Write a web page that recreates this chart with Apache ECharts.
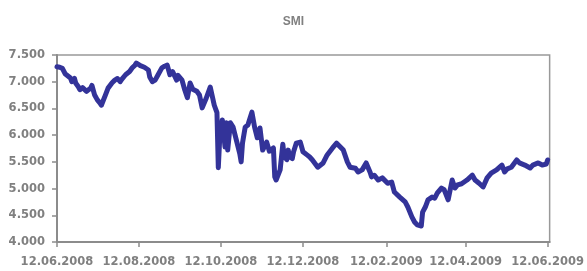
<!DOCTYPE html>
<html>
<head>
<meta charset="utf-8">
<script src="https://cdn.jsdelivr.net/npm/echarts@6/dist/echarts.min.js"></script>
<style>
html,body{margin:0;padding:0;background:#fff;}
#chart{width:587px;height:271px;}
</style>
</head>
<body>
<div id="chart"></div>
<script>
var title = 'SMI';
var dates = [
'2008-06-12','2008-06-14','2008-06-16','2008-06-18','2008-06-19','2008-06-22','2008-06-23','2008-06-25','2008-06-26','2008-06-28',
'2008-06-29','2008-07-01','2008-07-04','2008-07-05','2008-07-07','2008-07-08','2008-07-10','2008-07-12','2008-07-14','2008-07-15',
'2008-07-18','2008-07-20','2008-07-23','2008-07-25','2008-07-27','2008-07-29','2008-07-30','2008-08-02','2008-08-03','2008-08-05',
'2008-08-07','2008-08-09','2008-08-10','2008-08-13','2008-08-14','2008-08-16','2008-08-19','2008-08-20','2008-08-22','2008-08-24',
'2008-08-26','2008-08-29','2008-08-31','2008-09-02','2008-09-04','2008-09-06','2008-09-09','2008-09-10','2008-09-13','2008-09-15',
'2008-09-17','2008-09-19','2008-09-21','2008-09-24','2008-09-26','2008-09-28','2008-10-01','2008-10-04','2008-10-05','2008-10-07',
'2008-10-09','2008-10-10','2008-10-11','2008-10-13','2008-10-15','2008-10-16','2008-10-17','2008-10-19','2008-10-21','2008-10-24',
'2008-10-26','2008-10-27','2008-10-28','2008-10-30','2008-11-01','2008-11-04','2008-11-06','2008-11-08','2008-11-10','2008-11-12',
'2008-11-15','2008-11-17','2008-11-20','2008-11-21','2008-11-22','2008-11-25','2008-11-27','2008-11-28','2008-11-30','2008-12-01',
'2008-12-02','2008-12-04','2008-12-05','2008-12-07','2008-12-10','2008-12-12','2008-12-15','2008-12-17','2008-12-19','2008-12-23',
'2008-12-27','2008-12-30','2009-01-03','2009-01-06','2009-01-11','2009-01-14','2009-01-16','2009-01-20','2009-01-22','2009-01-25',
'2009-01-28','2009-01-31','2009-02-01','2009-02-03','2009-02-06','2009-02-09','2009-02-13','2009-02-16','2009-02-18','2009-02-22',
'2009-02-26','2009-02-28','2009-03-03','2009-03-05','2009-03-07','2009-03-10','2009-03-11','2009-03-13','2009-03-15','2009-03-18',
'2009-03-20','2009-03-22','2009-03-25','2009-03-27','2009-03-30','2009-04-02','2009-04-04','2009-04-06','2009-04-09','2009-04-13',
'2009-04-17','2009-04-19','2009-04-22','2009-04-25','2009-04-28','2009-05-01','2009-05-05','2009-05-09','2009-05-11','2009-05-13',
'2009-05-16','2009-05-20','2009-05-22','2009-05-26','2009-05-30','2009-06-01','2009-06-05','2009-06-08','2009-06-11','2009-06-12'
];
var smi = [
7280,7270,7250,7150,7126,7070,7000,7060,6970,6900,
6850,6890,6820,6800,6880,6930,6750,6660,6600,6560,
6750,6880,6980,7030,7060,7000,7040,7130,7160,7190,
7260,7310,7350,7300,7280,7270,7220,7090,7000,7030,
7120,7260,7290,7310,7130,7190,7030,7120,7030,6850,
6700,6975,6860,6820,6750,6510,6690,6900,6880,6560,
6420,5390,5910,6285,5780,6230,5720,6230,6150,5850,
5650,5500,5850,6150,6190,6430,6150,5950,6135,5720,
5870,5700,5760,5220,5160,5350,5830,5600,5540,5720,
5600,5560,5690,5850,5870,5690,5630,5590,5535,5400,
5480,5630,5760,5850,5720,5500,5400,5380,5310,5350,
5480,5300,5220,5250,5160,5200,5100,5120,4935,4840,
4750,4655,4470,4375,4320,4300,4560,4655,4790,4840,
4820,4920,5010,4980,4790,5160,5010,5070,5090,5160,
5250,5160,5100,5030,5200,5290,5350,5440,5310,5370,
5400,5535,5480,5440,5385,5440,5480,5440,5460,5535
];
var xTickDates = ['2008-06-12','2008-08-12','2008-10-12','2008-12-12','2009-02-12','2009-04-12','2009-06-12'];
var xMinDate = '2008-06-12';
var xMaxDate = '2009-06-13';
var yMin = 4000, yMax = 7500, yStep = 500;

function toTs(s){ var p = s.split('-'); return new Date(+p[0], +p[1]-1, +p[2]).getTime(); }
function pad(n){ return (n<10?'0':'')+n; }
function fmtDate(v){ var d = new Date(v); return pad(d.getDate())+'.'+pad(d.getMonth()+1)+'.'+d.getFullYear(); }
function fmtNum(v){ var s = String(Math.round(v)); return s.replace(/\B(?=(\d{3})+(?!\d))/g, '.'); }

var seriesData = dates.map(function(d,i){ return [toTs(d), smi[i]]; });
var ticks = xTickDates.map(toTs);
var labelFont = {color:'#808080', fontFamily:'DejaVu Sans', fontWeight:'bold', fontSize:11.5};

var chart = echarts.init(document.getElementById('chart'), null, {renderer:'canvas'});
chart.setOption({
  animation:false,
  backgroundColor:'#ffffff',
  title:{text:title, left:'center', top:11, textStyle:{color:'#808080', fontFamily:'Liberation Sans', fontWeight:'bold', fontSize:12}},
  grid:{left:57, right:37, top:55, bottom:29, show:true, borderColor:'#999999', borderWidth:1.5, backgroundColor:'transparent'},
  xAxis:{
    type:'value', min:toTs(xMinDate), max:toTs(xMaxDate)+12*3600*1000,
    scale:true,
    splitLine:{show:false},
    axisLine:{lineStyle:{color:'#8c8c8c', width:2}},
    axisTick:{show:true, length:5, customValues:ticks, lineStyle:{color:'#8c8c8c', width:1.5}},
    axisLabel:Object.assign({customValues:ticks, formatter:fmtDate, margin:14, hideOverlap:false, showMinLabel:true, showMaxLabel:true}, labelFont)
  },
  yAxis:{
    type:'value', min:yMin, max:yMax, interval:yStep,
    splitLine:{show:false},
    axisLine:{show:true, lineStyle:{color:'#8c8c8c', width:2}},
    axisTick:{show:true, length:5, lineStyle:{color:'#8c8c8c', width:1.5}},
    axisLabel:Object.assign({formatter:fmtNum, margin:12}, labelFont)
  },
  series:[{
    type:'line', data:seriesData, showSymbol:false,
    lineStyle:{color:'#333399', width:5, join:'round', cap:'round'},
    itemStyle:{color:'#333399'}
  }]
});
</script>
</body>
</html>
